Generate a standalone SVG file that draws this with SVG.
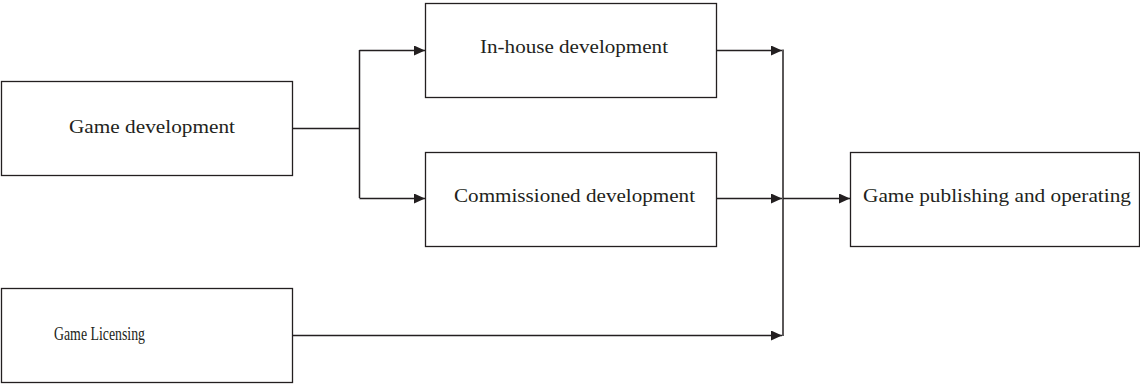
<svg xmlns="http://www.w3.org/2000/svg" width="1140" height="385" viewBox="0 0 1140 385">
<style>
.box{fill:#fff;stroke:#231f20;stroke-width:1.3}
.lbl{font-family:"Liberation Serif","Times New Roman",serif;font-size:18px;fill:#231f20;text-anchor:middle}
.ln{fill:none;stroke:#231f20;stroke-width:1.5}
</style>
<defs>
<marker id="ah" markerWidth="11" markerHeight="10" refX="11" refY="5" orient="auto" markerUnits="userSpaceOnUse">
<path d="M0,0 L11,5 L0,10 Z" fill="#231f20"/>
</marker>
</defs>
<rect width="1140" height="385" fill="#fff"/>
<g id="game-development">
<rect class="box" x="1.5" y="81.5" width="291" height="94"/>
<text class="lbl" x="152" y="133" textLength="166" lengthAdjust="spacingAndGlyphs">Game development</text>
</g>
<g id="in-house">
<rect class="box" x="425.5" y="3.5" width="291" height="94"/>
<text class="lbl" x="574" y="53" textLength="188" lengthAdjust="spacingAndGlyphs">In-house development</text>
</g>
<g id="commissioned">
<rect class="box" x="425.5" y="152.5" width="291" height="94"/>
<text class="lbl" x="574.5" y="202" textLength="241" lengthAdjust="spacingAndGlyphs">Commissioned development</text>
</g>
<g id="publishing">
<rect class="box" x="850.5" y="152.5" width="289" height="94"/>
<text class="lbl" x="997" y="202" textLength="268" lengthAdjust="spacingAndGlyphs">Game publishing and operating</text>
</g>
<g id="licensing">
<rect class="box" x="1.5" y="288.5" width="291" height="94"/>
<text class="lbl" x="99.5" y="340" textLength="91" lengthAdjust="spacingAndGlyphs">Game Licensing</text>
</g>
<g id="connectors">
<path class="ln" d="M292,128.5 H359.5"/>
<path class="ln" d="M359.5,50 V198"/>
<path class="ln" d="M359.5,50.5 H425" marker-end="url(#ah)"/>
<path class="ln" d="M359.5,198.5 H425" marker-end="url(#ah)"/>
<path class="ln" d="M716,50.5 H782" marker-end="url(#ah)"/>
<path class="ln" d="M716,198.5 H782" marker-end="url(#ah)"/>
<path class="ln" d="M292,335.5 H782" marker-end="url(#ah)"/>
<path class="ln" d="M783,49.5 V336"/>
<path class="ln" d="M783,198.5 H850" marker-end="url(#ah)"/>
</g>
</svg>
